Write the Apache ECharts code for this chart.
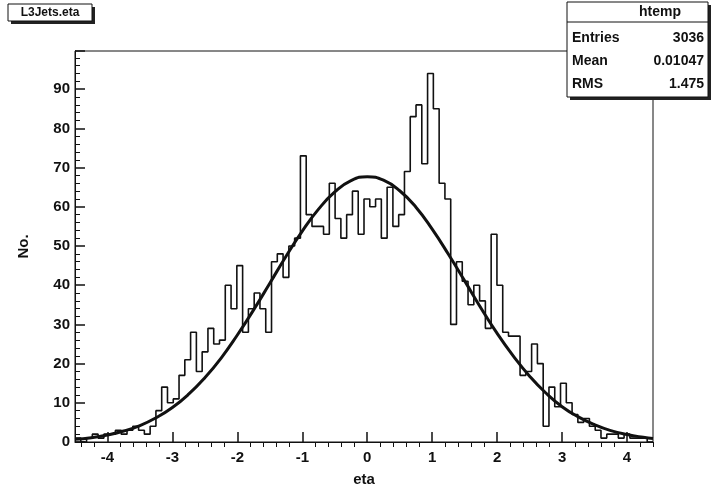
<!DOCTYPE html>
<html>
<head>
<meta charset="utf-8">
<script src="https://cdn.jsdelivr.net/npm/echarts@6/dist/echarts.min.js"></script>
<style>
  html, body { margin: 0; padding: 0; background: #fff; }
  #chart { width: 713px; height: 492px; }
</style>
</head>
<body>
<div id="chart"></div>
<script>
// histogram htemp : L3Jets.eta, 100 bins
const binLow = -4.5;
const binWidth = 0.089;
const counts = [
  1, 0, 1, 2, 1, 2, 2, 3, 2, 3,
  4, 3, 2, 4, 8, 14, 10, 11, 17, 21,
  28, 18, 23, 29, 25, 26, 40, 34, 45, 28,
  34, 38, 34, 28, 46, 48, 42, 50, 52, 73,
  58, 55, 55, 53, 66, 57, 52, 58, 64, 53,
  62, 60, 62, 52, 65, 55, 58, 69, 83, 86,
  71, 94, 85, 66, 62, 30, 46, 41, 35, 40,
  36, 29, 53, 40, 28, 27, 27, 17, 18, 25,
  20, 4, 14, 9, 15, 10, 7, 5, 6, 4,
  3, 1, 2, 2, 1, 2, 1, 1, 1, 0
];

// gaus fit curve
const fitEta = [
  -4.5, -4.25, -4, -3.75, -3.5, -3.25, -3, -2.75, -2.5, -2.25, -2, -1.75,
  -1.5, -1.25, -1, -0.75, -0.5, -0.25, 0, 0.25, 0.5, 0.75, 1, 1.25,
  1.5, 1.75, 2, 2.25, 2.5, 2.75, 3, 3.25, 3.5, 3.75, 4, 4.25, 4.4
];
const fitValues = [
  0.7, 1.1, 1.8, 2.8, 4.2, 6.2, 8.8, 12.2, 16.4, 21.4, 27.3, 33.7,
  40.5, 47.4, 53.8, 59.4, 63.8, 66.7, 67.7, 66.8, 64.1, 59.9, 54.3, 47.9,
  41.1, 34.2, 27.7, 21.9, 16.8, 12.5, 9.0, 6.4, 4.4, 2.9, 1.9, 1.2, 0.9
];

const xMajorTicks = [-4, -3, -2, -1, 0, 1, 2, 3, 4];
const xMinorTicks = [];
for (let t = -44; t <= 44; t += 2) {
  if (t % 10 !== 0) xMinorTicks.push(t / 10);
}

const statsTitle = "htemp";
const statsRows = [["Entries", "3036"], ["Mean", "0.01047"], ["RMS", "1.475"]];
const histTitle = "L3Jets.eta";
const xTitle = "eta";
const yTitle = "No.";

const histData = counts.map((c, i) => [binLow + i * binWidth, c]);
histData.push([binLow + counts.length * binWidth, counts[counts.length - 1]]);
const fitData = fitEta.map((x, i) => [x, fitValues[i]]);

const font = "Liberation Sans, Arial, sans-serif";
const labelStyle = { fontFamily: font, fontWeight: "bold", fontSize: 15, color: "#111" };

const gridBox = { left: 75, right: 60, top: 51, bottom: 45 };

const chart = echarts.init(document.getElementById("chart"));

const statsGraphic = [
  { type: "rect", shape: { x: 570, y: 5, width: 141, height: 95 }, style: { fill: "#222" } },
  { type: "rect", shape: { x: 567, y: 2, width: 141, height: 95 },
    style: { fill: "#fff", stroke: "#111", lineWidth: 1 } },
  { type: "line", shape: { x1: 567, y1: 22, x2: 708, y2: 22 }, style: { stroke: "#111", lineWidth: 1 } },
  { type: "text", x: 660, y: 12, style: { text: statsTitle, font: "bold 14px " + font,
    fill: "#111", textAlign: "center", textVerticalAlign: "middle" } }
];
statsRows.forEach((row, i) => {
  const y = 38 + i * 23;
  statsGraphic.push({ type: "text", x: 572, y: y, style: { text: row[0], font: "bold 14px " + font,
    fill: "#111", textAlign: "left", textVerticalAlign: "middle" } });
  statsGraphic.push({ type: "text", x: 704, y: y, style: { text: row[1], font: "bold 14px " + font,
    fill: "#111", textAlign: "right", textVerticalAlign: "middle" } });
});

const option = {
  backgroundColor: "#fff",
  animation: false,
  grid: [
    Object.assign({ show: true, borderColor: "#111", borderWidth: 1, backgroundColor: "transparent" }, gridBox),
    Object.assign({ show: false }, gridBox)
  ],
  xAxis: [
    {
      type: "value", gridIndex: 0, min: binLow, max: binLow + counts.length * binWidth,
      name: xTitle, nameLocation: "middle", nameGap: 30,
      nameTextStyle: labelStyle,
      axisLine: { show: true, onZero: false, lineStyle: { color: "#111", width: 1 } },
      axisTick: { show: true, inside: true, length: 10, customValues: xMajorTicks,
        lineStyle: { color: "#111", width: 1.5 } },
      axisLabel: Object.assign({ customValues: xMajorTicks, margin: 8 }, labelStyle),
      splitLine: { show: false }
    },
    {
      type: "value", gridIndex: 1, min: binLow, max: binLow + counts.length * binWidth,
      axisLine: { show: false, onZero: false },
      axisTick: { show: true, inside: true, length: 5, customValues: xMinorTicks,
        lineStyle: { color: "#111", width: 1 } },
      axisLabel: { show: false },
      splitLine: { show: false }
    }
  ],
  yAxis: [
    {
      type: "value", gridIndex: 0, min: 0, max: 99.75, interval: 10,
      name: yTitle, nameLocation: "middle", nameGap: 44, nameRotate: 90,
      nameTextStyle: labelStyle,
      axisLine: { show: true, onZero: false, lineStyle: { color: "#111", width: 1 } },
      axisTick: { show: true, inside: true, length: 10, lineStyle: { color: "#111", width: 1.5 } },
      minorTick: { show: true, splitNumber: 5, length: 5, lineStyle: { color: "#111", width: 1 } },
      axisLabel: Object.assign({ margin: 5, showMaxLabel: false }, labelStyle),
      splitLine: { show: false }
    },
    {
      type: "value", gridIndex: 1, min: 0, max: 99.75, show: false,
      axisLine: { onZero: false }
    }
  ],
  series: [
    {
      name: "htemp", type: "line", xAxisIndex: 0, yAxisIndex: 0,
      step: "end", symbol: "none", data: histData,
      lineStyle: { color: "#111", width: 1.6 }
    },
    {
      name: "gaus", type: "line", xAxisIndex: 0, yAxisIndex: 0,
      smooth: true, symbol: "none", data: fitData,
      lineStyle: { color: "#111", width: 3 }
    }
  ],
  graphic: [
    { type: "rect", shape: { x: 11, y: 7, width: 84, height: 17 }, style: { fill: "#222" } },
    { type: "rect", shape: { x: 8, y: 4, width: 84, height: 17 },
      style: { fill: "#fff", stroke: "#111", lineWidth: 1 } },
    { type: "text", x: 50, y: 13, style: { text: histTitle, font: "bold 12px " + font,
      fill: "#111", textAlign: "center", textVerticalAlign: "middle" } }
  ].concat(statsGraphic)
};

chart.setOption(option);
</script>
</body>
</html>
